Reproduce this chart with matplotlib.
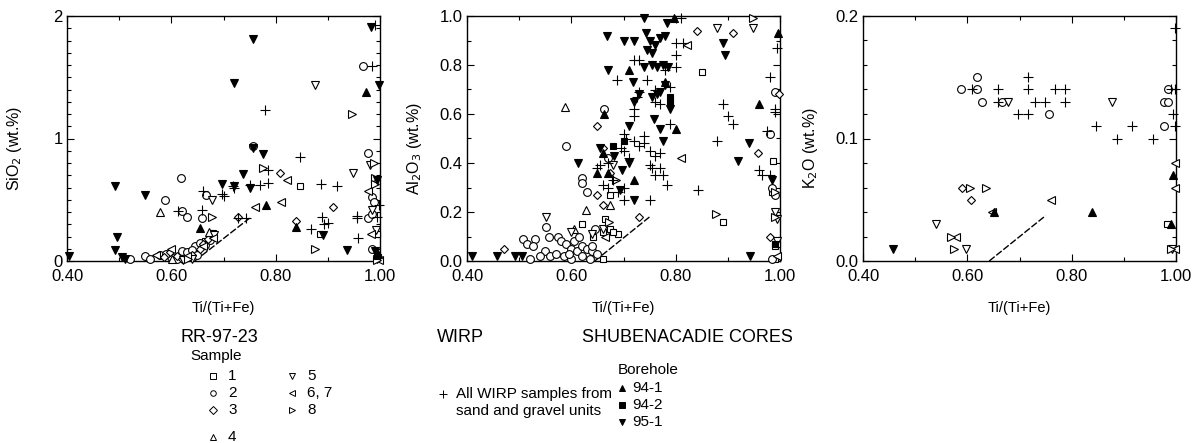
import matplotlib
matplotlib.use("Agg")
import matplotlib.pyplot as plt
from matplotlib.ticker import MultipleLocator
from matplotlib.lines import Line2D

plt.rcParams["font.family"] = ["Liberation Sans", "DejaVu Sans"]

# ---------------- data: (Ti/(Ti+Fe), wt.%) ----------------
# SiO2 panel
sio2_s1 = [(0.847, 0.61), (0.885, 0.22), (0.995, 0.22), (0.68, 0.23), (0.675, 0.20),
           (0.997, 0.03), (0.665, 0.16)]
sio2_s2 = [(0.52, 0.02), (0.618, 0.68), (0.588, 0.50), (0.62, 0.41), (0.63, 0.36),
           (0.666, 0.54), (0.658, 0.35), (0.757, 0.94), (0.967, 1.59), (0.977, 0.88),
           (0.985, 0.52), (0.988, 0.48), (0.977, 0.35), (0.985, 0.38), (0.985, 0.10),
           (0.55, 0.04), (0.56, 0.02), (0.578, 0.05), (0.60, 0.03), (0.62, 0.08),
           (0.645, 0.12), (0.655, 0.15), (0.665, 0.13), (0.675, 0.17), (0.59, 0.06),
           (0.63, 0.07), (0.64, 0.09), (0.61, 0.02), (0.65, 0.05)]
sio2_s3 = [(0.808, 0.72), (0.909, 0.44), (0.839, 0.33), (0.585, 0.03), (0.61, 0.04),
           (0.64, 0.05), (0.66, 0.14), (0.67, 0.18), (0.728, 0.36), (0.62, 0.02),
           (0.655, 0.10), (0.598, 0.07)]
sio2_s4 = [(0.578, 0.40), (0.673, 0.24), (0.602, 0.02)]
sio2_s5 = [(0.677, 0.50), (0.875, 1.44), (0.948, 0.72), (0.98, 0.78), (0.622, 0.01),
           (0.993, 0.25), (0.64, 0.02), (0.682, 0.21), (0.995, 0.02), (0.985, 0.42)]
sio2_s67 = [(0.821, 0.66), (0.76, 0.44), (0.81, 0.48), (0.60, 0.10), (0.57, 0.05),
            (0.977, 0.57), (0.982, 0.22), (0.998, 0.01), (0.66, 0.12), (0.68, 0.19),
            (0.63, 0.04)]
sio2_s8 = [(0.776, 0.76), (0.677, 0.36), (0.875, 0.10), (0.946, 1.20), (0.99, 0.68),
           (0.988, 0.80), (0.99, 0.63), (0.632, 0.02), (0.995, 0.01)]
sio2_wirp = [(0.661, 0.57), (0.613, 0.41), (0.658, 0.42), (0.697, 0.55), (0.785, 0.74),
             (0.847, 0.85), (0.78, 1.23), (0.718, 0.61), (0.751, 0.62), (0.77, 0.62),
             (0.785, 0.64), (0.70, 0.53), (0.728, 0.35), (0.744, 0.35), (0.887, 0.63),
             (0.917, 0.61), (0.888, 0.36), (0.893, 0.30), (0.90, 0.31), (0.868, 0.26),
             (0.958, 0.19), (0.956, 0.37), (0.956, 0.35), (0.985, 1.59), (0.99, 1.93),
             (0.998, 0.46), (0.995, 0.36), (0.72, 0.60)]
sio2_b941 = [(0.654, 0.27), (0.781, 0.46), (0.839, 0.28), (0.973, 1.38), (0.997, 0.06)]
sio2_b942 = [(0.995, 0.04)]
sio2_b951 = [(0.403, 0.04), (0.492, 0.61), (0.55, 0.54), (0.495, 0.20), (0.492, 0.09),
             (0.505, 0.03), (0.512, 0.02), (0.698, 0.63), (0.738, 0.71), (0.757, 0.92),
             (0.775, 0.87), (0.751, 0.60), (0.72, 0.61), (0.89, 0.21), (0.937, 0.09),
             (0.757, 1.81), (0.721, 1.45), (0.982, 1.91), (0.999, 1.44), (0.995, 0.66),
             (0.99, 0.08)]

# Al2O3 panel
al_s1 = [(0.85, 0.77), (0.89, 0.16), (0.62, 0.15), (0.642, 0.10), (0.66, 0.12),
         (0.665, 0.17), (0.675, 0.13), (0.69, 0.11), (0.66, 0.01), (0.987, 0.41),
         (0.985, 0.28), (0.99, 0.06), (0.995, 0.07), (0.99, 0.01), (0.675, 0.27),
         (0.68, 0.12)]
al_s2 = [(0.59, 0.47), (0.62, 0.34), (0.62, 0.32), (0.63, 0.28), (0.551, 0.14),
         (0.507, 0.09), (0.53, 0.09), (0.515, 0.07), (0.527, 0.06), (0.557, 0.10),
         (0.663, 0.62), (0.67, 0.42), (0.575, 0.10), (0.58, 0.08), (0.59, 0.07),
         (0.60, 0.05), (0.61, 0.04), (0.62, 0.06), (0.63, 0.05), (0.64, 0.04),
         (0.55, 0.04), (0.56, 0.02), (0.52, 0.01), (0.54, 0.02), (0.57, 0.03),
         (0.585, 0.02), (0.60, 0.01), (0.62, 0.02), (0.635, 0.01), (0.65, 0.03),
         (0.645, 0.13), (0.99, 0.69), (0.98, 0.52), (0.985, 0.30), (0.99, 0.27),
         (0.985, 0.01), (0.605, 0.08), (0.615, 0.10), (0.64, 0.06), (0.595, 0.03)]
al_s3 = [(0.47, 0.05), (0.649, 0.27), (0.65, 0.55), (0.84, 0.94), (0.91, 0.93),
         (0.73, 0.18), (0.958, 0.44), (0.98, 0.10), (0.998, 0.68), (0.66, 0.23),
         (0.66, 0.46), (0.675, 0.36)]
al_s4 = [(0.587, 0.63), (0.629, 0.21), (0.605, 0.13), (0.675, 0.23)]
al_s5 = [(0.551, 0.18), (0.60, 0.12), (0.879, 0.95), (0.948, 0.95), (0.68, 0.39),
         (0.99, 0.20), (0.995, 0.17), (0.66, 0.13), (0.64, 0.11), (0.995, 0.08)]
al_s67 = [(0.821, 0.88), (0.811, 0.42), (0.665, 0.10), (0.995, 0.02)]
al_s8 = [(0.948, 0.99), (0.878, 0.19), (0.672, 0.16), (0.99, 0.28), (0.99, 0.18),
         (0.685, 0.33)]
al_wirp = [(0.81, 0.99), (0.80, 0.89), (0.72, 0.82), (0.73, 0.82), (0.78, 0.78),
           (0.80, 0.84), (0.80, 0.79), (0.688, 0.74), (0.745, 0.74), (0.79, 0.71),
           (0.73, 0.69), (0.725, 0.67), (0.76, 0.65), (0.77, 0.64), (0.72, 0.62),
           (0.72, 0.59), (0.79, 0.56), (0.70, 0.52), (0.705, 0.50), (0.72, 0.49),
           (0.74, 0.51), (0.75, 0.45), (0.76, 0.43), (0.77, 0.44), (0.71, 0.42),
           (0.75, 0.39), (0.755, 0.38), (0.77, 0.38), (0.76, 0.35), (0.775, 0.35),
           (0.783, 0.31), (0.843, 0.29), (0.70, 0.25), (0.75, 0.25), (0.879, 0.49),
           (0.89, 0.64), (0.90, 0.59), (0.91, 0.56), (0.96, 0.37), (0.965, 0.35),
           (0.98, 0.75), (0.99, 0.62), (0.99, 0.61), (0.995, 0.87), (0.975, 0.53),
           (0.98, 0.35), (0.67, 0.30), (0.68, 0.33), (0.66, 0.31), (0.69, 0.28),
           (0.70, 0.30), (0.65, 0.38), (0.655, 0.39), (0.67, 0.40), (0.695, 0.46),
           (0.70, 0.45), (0.73, 0.47), (0.74, 0.48), (0.815, 0.89), (0.76, 0.70)]
al_b941 = [(0.797, 0.99), (0.71, 0.78), (0.78, 0.73), (0.662, 0.60), (0.80, 0.54),
           (0.96, 0.64), (0.997, 0.93), (0.72, 0.33), (0.65, 0.36), (0.66, 0.44),
           (0.67, 0.36)]
al_b942 = [(0.79, 0.67), (0.79, 0.65), (0.70, 0.49), (0.68, 0.47), (0.99, 0.07)]
al_b951 = [(0.409, 0.02), (0.457, 0.02), (0.492, 0.02), (0.505, 0.02), (0.612, 0.40),
           (0.739, 0.99), (0.783, 0.97), (0.668, 0.92), (0.70, 0.90), (0.72, 0.90),
           (0.743, 0.93), (0.75, 0.90), (0.745, 0.86), (0.755, 0.85), (0.76, 0.88),
           (0.77, 0.91), (0.78, 0.92), (0.891, 0.89), (0.895, 0.84), (0.67, 0.78),
           (0.74, 0.79), (0.755, 0.80), (0.765, 0.79), (0.775, 0.80), (0.785, 0.79),
           (0.718, 0.73), (0.78, 0.72), (0.73, 0.68), (0.755, 0.67), (0.77, 0.69),
           (0.765, 0.68), (0.79, 0.62), (0.72, 0.65), (0.758, 0.58), (0.71, 0.55),
           (0.77, 0.54), (0.776, 0.49), (0.71, 0.40), (0.72, 0.25), (0.94, 0.48),
           (0.92, 0.41), (0.984, 0.33), (0.943, 0.02), (0.655, 0.46), (0.681, 0.43),
           (0.697, 0.37), (0.694, 0.29)]

# K2O panel
k_s1 = [(0.982, 0.03)]
k_s2 = [(0.588, 0.14), (0.618, 0.14), (0.618, 0.15), (0.628, 0.13), (0.666, 0.13),
        (0.757, 0.12), (0.977, 0.11), (0.977, 0.13), (0.985, 0.14), (0.985, 0.13)]
k_s3 = [(0.59, 0.06), (0.607, 0.05)]
k_s4 = []
k_s5 = [(0.678, 0.13), (0.877, 0.13), (0.539, 0.03), (0.597, 0.01), (0.993, 0.01)]
k_s67 = [(0.579, 0.02), (0.647, 0.04), (0.76, 0.05), (0.998, 0.08), (0.998, 0.06),
         (0.998, 0.01)]
k_s8 = [(0.605, 0.06), (0.636, 0.06), (0.568, 0.02), (0.575, 0.01), (0.99, 0.01)]
k_wirp = [(0.609, 0.14), (0.659, 0.14), (0.659, 0.13), (0.698, 0.12), (0.717, 0.12),
          (0.717, 0.15), (0.717, 0.14), (0.729, 0.13), (0.749, 0.13), (0.768, 0.14),
          (0.787, 0.14), (0.787, 0.13), (0.846, 0.11), (0.886, 0.10), (0.915, 0.11),
          (0.955, 0.10), (0.998, 0.19), (0.998, 0.14), (0.995, 0.12), (0.998, 0.11),
          (0.99, 0.14)]
k_b941 = [(0.651, 0.04), (0.839, 0.04), (0.994, 0.07), (0.99, 0.03)]
k_b942 = []
k_b951 = [(0.457, 0.01)]

# mixing trend line end points (x, y)
trend_sio2 = [(0.645, 0.0), (0.75, 0.35)]
trend_al = [(0.645, 0.0), (0.75, 0.18)]
trend_k = [(0.642, 0.0), (0.75, 0.037)]

# ---------------- styles ----------------
MS = 5.6
styles = {
    "s1":   dict(marker="s", mfc="white", mec="black", ms=MS - 0.6),
    "s2":   dict(marker="o", mfc="white", mec="black", ms=MS),
    "s3":   dict(marker="D", mfc="white", mec="black", ms=MS - 1.4),
    "s4":   dict(marker="^", mfc="white", mec="black", ms=MS),
    "s5":   dict(marker="v", mfc="white", mec="black", ms=MS),
    "s67":  dict(marker="<", mfc="white", mec="black", ms=MS),
    "s8":   dict(marker=">", mfc="white", mec="black", ms=MS),
    "wirp": dict(marker="+", mfc="black", mec="black", ms=MS + 1.5),
    "b941": dict(marker="^", mfc="black", mec="black", ms=MS),
    "b942": dict(marker="s", mfc="black", mec="black", ms=MS - 0.6),
    "b951": dict(marker="v", mfc="black", mec="black", ms=MS),
}

panels = [
    dict(data={"s1": sio2_s1, "s2": sio2_s2, "s3": sio2_s3, "s4": sio2_s4, "s5": sio2_s5,
               "s67": sio2_s67, "s8": sio2_s8, "wirp": sio2_wirp, "b941": sio2_b941,
               "b942": sio2_b942, "b951": sio2_b951},
         trend=trend_sio2, ylim=2.0, ymaj=1.0, ymin=0.1, yfmt="%.0f",
         ylabel="SiO$_2$ (wt.%)"),
    dict(data={"s1": al_s1, "s2": al_s2, "s3": al_s3, "s4": al_s4, "s5": al_s5,
               "s67": al_s67, "s8": al_s8, "wirp": al_wirp, "b941": al_b941,
               "b942": al_b942, "b951": al_b951},
         trend=trend_al, ylim=1.0, ymaj=0.2, ymin=0.1, yfmt="%.1f",
         ylabel="Al$_2$O$_3$ (wt.%)"),
    dict(data={"s1": k_s1, "s2": k_s2, "s3": k_s3, "s4": k_s4, "s5": k_s5,
               "s67": k_s67, "s8": k_s8, "wirp": k_wirp, "b941": k_b941,
               "b942": k_b942, "b951": k_b951},
         trend=trend_k, ylim=0.2, ymaj=0.1, ymin=0.02, yfmt="%.1f",
         ylabel="K$_2$O (wt.%)"),
]

W, H = 1202, 443
fig = plt.figure(figsize=(W / 100, H / 100), dpi=100)

lefts = [67, 467, 863]
for left, p in zip(lefts, panels):
    ax = fig.add_axes([left / W, 1 - 261 / H, 313 / W, 245 / H])
    ax.plot([pt[0] for pt in p["trend"]], [pt[1] for pt in p["trend"]],
            color="black", lw=1.0, dashes=(5, 1.5), zorder=1)
    for key, pts in p["data"].items():
        if not pts:
            continue
        st = styles[key]
        ax.plot([q[0] for q in pts], [q[1] for q in pts], ls="none",
                marker=st["marker"], ms=st["ms"], mfc=st["mfc"], mec=st["mec"],
                mew=0.8, zorder=3, clip_on=False)
    ax.set_xlim(0.4, 1.0)
    ax.set_ylim(0, p["ylim"])
    ax.xaxis.set_major_locator(MultipleLocator(0.2))
    ax.xaxis.set_minor_locator(MultipleLocator(0.1))
    ax.xaxis.set_major_formatter(plt.FormatStrFormatter("%.2f"))
    ax.yaxis.set_major_locator(MultipleLocator(p["ymaj"]))
    ax.yaxis.set_minor_locator(MultipleLocator(p["ymin"]))
    ax.yaxis.set_major_formatter(plt.FormatStrFormatter(p["yfmt"]))
    ax.tick_params(which="both", direction="in", top=True, right=True,
                   labelsize=12, width=0.8)
    ax.tick_params(axis="x", pad=6)
    ax.tick_params(axis="y", pad=3)
    ax.tick_params(which="major", length=5)
    ax.tick_params(which="minor", length=3)
    for sp in ax.spines.values():
        sp.set_linewidth(1.0)
    ax.set_xlabel("Ti/(Ti+Fe)", fontsize=10.5, labelpad=12)
    ax.set_ylabel(p["ylabel"], fontsize=11.5)
    # all three y labels sit the same distance left of their spine
    ax.yaxis.set_label_coords(-43 / 313, 0.46)


def fx(px):
    return px / W


def fy(py):
    return 1 - py / H


def legend_marker(px, py, key, size=4.0):
    st = styles[key]
    fig.add_artist(Line2D([fx(px)], [fy(py)], ls="none", marker=st["marker"],
                          ms=size if key != "wirp" else size + 1.5,
                          mfc=st["mfc"], mec=st["mec"], mew=0.7,
                          transform=fig.transFigure))


TXT = dict(ha="left", va="center", color="black")
fig.text(fx(180), fy(338), "RR-97-23", fontsize=13, **TXT)
fig.text(fx(190), fy(356), "Sample", fontsize=11, **TXT)
rows = [376, 393, 410, 437]
for key, label, r in [("s1", "1", 0), ("s2", "2", 1), ("s3", "3", 2), ("s4", "4", 3)]:
    legend_marker(213, rows[r], key)
    fig.text(fx(228), fy(rows[r]), label, fontsize=11, **TXT)
for key, label, r in [("s5", "5", 0), ("s67", "6, 7", 1), ("s8", "8", 2)]:
    legend_marker(292, rows[r], key)
    fig.text(fx(307), fy(rows[r]), label, fontsize=11, **TXT)

fig.text(fx(437), fy(338), "WIRP", fontsize=13, **TXT)
legend_marker(443, 394, "wirp")
fig.text(fx(456), fy(394), "All WIRP samples from", fontsize=11, **TXT)
fig.text(fx(456), fy(411), "sand and gravel units", fontsize=11, **TXT)

fig.text(fx(582), fy(338), "SHUBENACADIE CORES", fontsize=13, **TXT)
fig.text(fx(618), fy(370), "Borehole", fontsize=11, **TXT)
for key, label, py in [("b941", "94-1", 388), ("b942", "94-2", 405), ("b951", "95-1", 422)]:
    legend_marker(622, py, key)
    fig.text(fx(632), fy(py), label, fontsize=11, **TXT)

fig.savefig("out.png", dpi=100)
